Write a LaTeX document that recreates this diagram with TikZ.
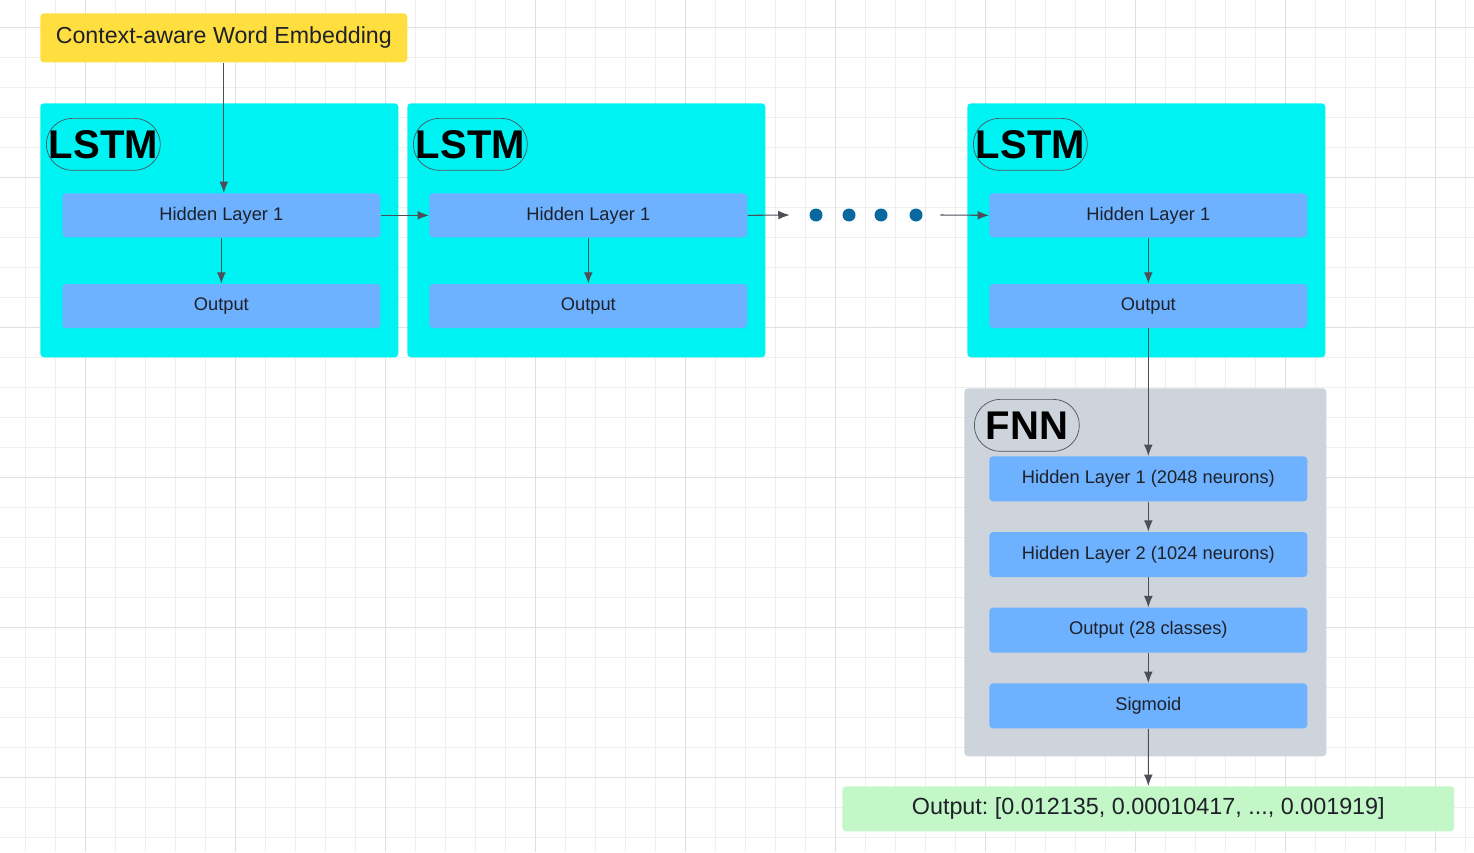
\documentclass[tikz,border=0pt]{standalone}
\usepackage{fontspec}
\setmainfont{Liberation Sans}
\frenchspacing
\usetikzlibrary{arrows.meta,positioning}
\definecolor{gridlight}{HTML}{EFEFEF}
\definecolor{griddark}{HTML}{E0E0E0}
\definecolor{embedyellow}{HTML}{FFDF40}
\definecolor{lstmcyan}{HTML}{00F3F3}
\definecolor{layerblue}{HTML}{6DB1FF}
\definecolor{fnngray}{HTML}{CED4DC}
\definecolor{resultgreen}{HTML}{C3F7C8}
\definecolor{dotblue}{HTML}{08689F}
\definecolor{linegray}{HTML}{4B5058}
\definecolor{taggray}{HTML}{505358}
\definecolor{textdark}{HTML}{1E2128}
\tikzset{every picture/.style={
  >={Latex[length=6.5pt,width=5pt]}   % Filled arrow heads.
  }
}

\begin{document}
\begin{tikzpicture}[
      x=0.02cm, y=-0.02cm,
      gridminor/.style={draw=gridlight, line width=0.5pt},
      gridmajor/.style={draw=griddark, line width=0.5pt},
      block/.style={
        fill=#1,
        rounded corners=2pt,
        anchor=north west,
        inner sep=0pt,
        text=textdark
      },
      layer/.style={
        fill=layerblue,
        rounded corners=2pt,
        minimum width=6.36cm,
        minimum height=0.89cm,
        inner sep=0pt,
        text=textdark,
        font=\fontsize{10.4}{12}\selectfont
      },
      tag/.style={
        draw=taggray,
        line width=0.4pt,
        rounded corners=0.52cm,
        minimum height=1.04cm,
        anchor=north west,
        inner sep=0pt,
        font=\fontsize{22.8}{24}\selectfont\bfseries
      },
      dot/.style={circle, fill=dotblue, minimum size=0.26cm, inner sep=0pt},
      flow/.style={->, draw=linegray, line width=0.6pt}
    ]

      \useasboundingbox (0,0) rectangle (1474,852);

      % Draw the background grid.
      \foreach \gx in {25,55,...,1465} \draw[gridminor] (\gx,0) -- (\gx,852);
      \foreach \gy in {27,57,...,837} \draw[gridminor] (0,\gy) -- (1474,\gy);
      \foreach \gx in {85,235,...,1435} \draw[gridmajor] (\gx,0) -- (\gx,852);
      \foreach \gy in {27,177,...,777} \draw[gridmajor] (0,\gy) -- (1474,\gy);

      % The input.
      \node[block=embedyellow, minimum width=7.34cm, minimum height=0.98cm,
        font=\fontsize{13.2}{15}\selectfont] (embed) at (40,13)
        {Context-aware Word Embedding};

      % The LSTM cells.
      \foreach \i/\x in {1/40,2/407,3/967} {
        \node[block=lstmcyan, minimum width=7.16cm, minimum height=5.08cm] (lstm\i) at (\x,103) {};
        \node[tag, minimum width=2.28cm] (tag\i) at ([shift={(6,15)}]lstm\i.north west) {LSTM};
        \node[layer, anchor=north west, minimum height=0.88cm] (hid\i)
          at ([shift={(22,90)}]lstm\i.north west) {Hidden Layer 1};
        \node[layer, below=0.92cm of hid\i, minimum height=0.88cm] (out\i) {Output};
        \draw[flow] (hid\i) -- (out\i);
      }

      % The dots between the cells.
      \foreach \i/\x in {1/816,2/849,3/881,4/916}
        \node[dot] (dot\i) at (\x,215) {};

      % The FNN.
      \node[block=fnngray, minimum width=7.24cm, minimum height=7.36cm] (fnn) at (964,388) {};
      \node[tag, minimum width=2.1cm] (fnntag) at ([shift={(10,11)}]fnn.north west) {FNN};
      \node[layer, anchor=north west, minimum height=0.9cm] (fnn1)
        at ([shift={(25,68)}]fnn.north west) {Hidden Layer 1 (2048 neurons)};
      \node[layer, below=0.6cm of fnn1, minimum height=0.9cm] (fnn2) {Hidden Layer 2 (1024 neurons)};
      \node[layer, below=0.6cm of fnn2, minimum height=0.9cm] (fnn3) {Output (28 classes)};
      \node[layer, below=0.6cm of fnn3, minimum height=0.9cm] (fnn4) {Sigmoid};

      % The result.
      \node[block=resultgreen, minimum width=12.24cm, minimum height=0.9cm,
        font=\fontsize{13.3}{15}\selectfont] (result) at (842,786)
        {Output: [0.012135, 0.00010417, ..., 0.001919]};

      % Connect everything.
      \draw[flow] (embed.south) -- (embed.south |- hid1.north);
      \draw[flow] (hid1.east) -- (hid2.west);
      \draw[flow] (hid2.east) -- ([xshift=-0.39cm]dot1.west);
      \draw[flow] ([xshift=0.35cm]dot4.east) -- (hid3.west);
      \draw[flow] (out3) -- (fnn1);
      \draw[flow] (fnn1) -- (fnn2);
      \draw[flow] (fnn2) -- (fnn3);
      \draw[flow] (fnn3) -- (fnn4);
      \draw[flow] (fnn4) -- (result);

    \end{tikzpicture}
\end{document}
